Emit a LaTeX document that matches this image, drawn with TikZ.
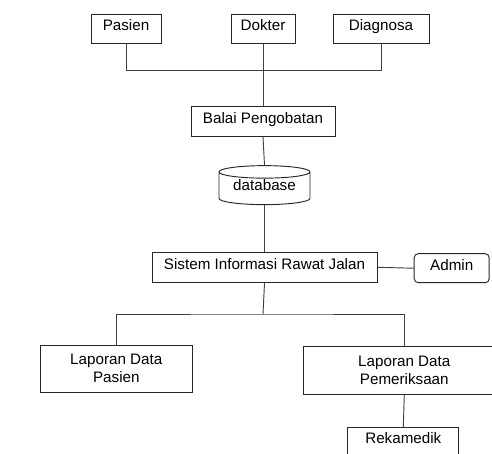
\documentclass[tikz,border=0pt]{standalone}
\usepackage{fontspec}
\setmainfont{Liberation Sans}
\usetikzlibrary{shapes,positioning}

\begin{document}
\begin{tikzpicture}[x=0.75pt,y=-0.75pt,
	box/.style 2 args={draw=black!85,line width=0.7pt,fill=white,inner sep=0pt,align=center,
		font=\fontsize{11.4}{13.5}\selectfont,
		minimum width=#1*0.75pt,minimum height=#2*0.75pt},
	single/.style={text height=0.72em,text depth=0.4em},
	link/.style={draw=black!75,line width=0.7pt}]
\useasboundingbox (0,0) rectangle (492,453);
\clip (0,0) rectangle (492,453);

\node[box={91}{39},single,shape=cylinder,shape border rotate=90,aspect=0.2] (db) at (264.5,188.5) {database};
\node[box={70}{29},single] (pasien) at (126,28.5) {Pasien};
\node[box={64}{29},single] (dokter) at (263,28.5) {Dokter};
\node[box={96}{29},single] (diagnosa) at (381,28.5) {Diagnosa};
\node[box={144}{29.5},single] (balai) at (263,121.5) {Balai Pengobatan};
\node[box={225}{30.5},single] (sistem) at (264.5,267.3) {Sistem Informasi Rawat Jalan};
\node[box={75}{29},single,rounded corners=3pt] (admin) at (451.7,268.2) {Admin};
\node[box={152.5}{47.5}] (lappasien) at (116.3,368.8) {Laporan Data\\Pasien};
\node[box={202.5}{48.3}] (lapperiksa) at (404.3,370.2) {Laporan Data\\Pemeriksaan};
\node[box={111.3}{29},single] (rekam) at (403.3,441.8) {Rekamedik};

\coordinate (top) at (263,70.7);
\coordinate (bottom) at (263,314);

\draw[link] (pasien.south) |- (top) -| (diagnosa.south);
\draw[link] (dokter.south) -- (balai.north);
\draw[link] (balai.south) -- (db.top);
\draw[link] (db.bottom) -- (sistem.north);
\draw[link] (sistem.east) -- (admin.west);
\draw[link] (sistem.south) -- (bottom);
\draw[link] (lappasien.north) |- (bottom) -| (lapperiksa.north);
\draw[link] (lapperiksa.south) -- (rekam.north);
\end{tikzpicture}
\end{document}
